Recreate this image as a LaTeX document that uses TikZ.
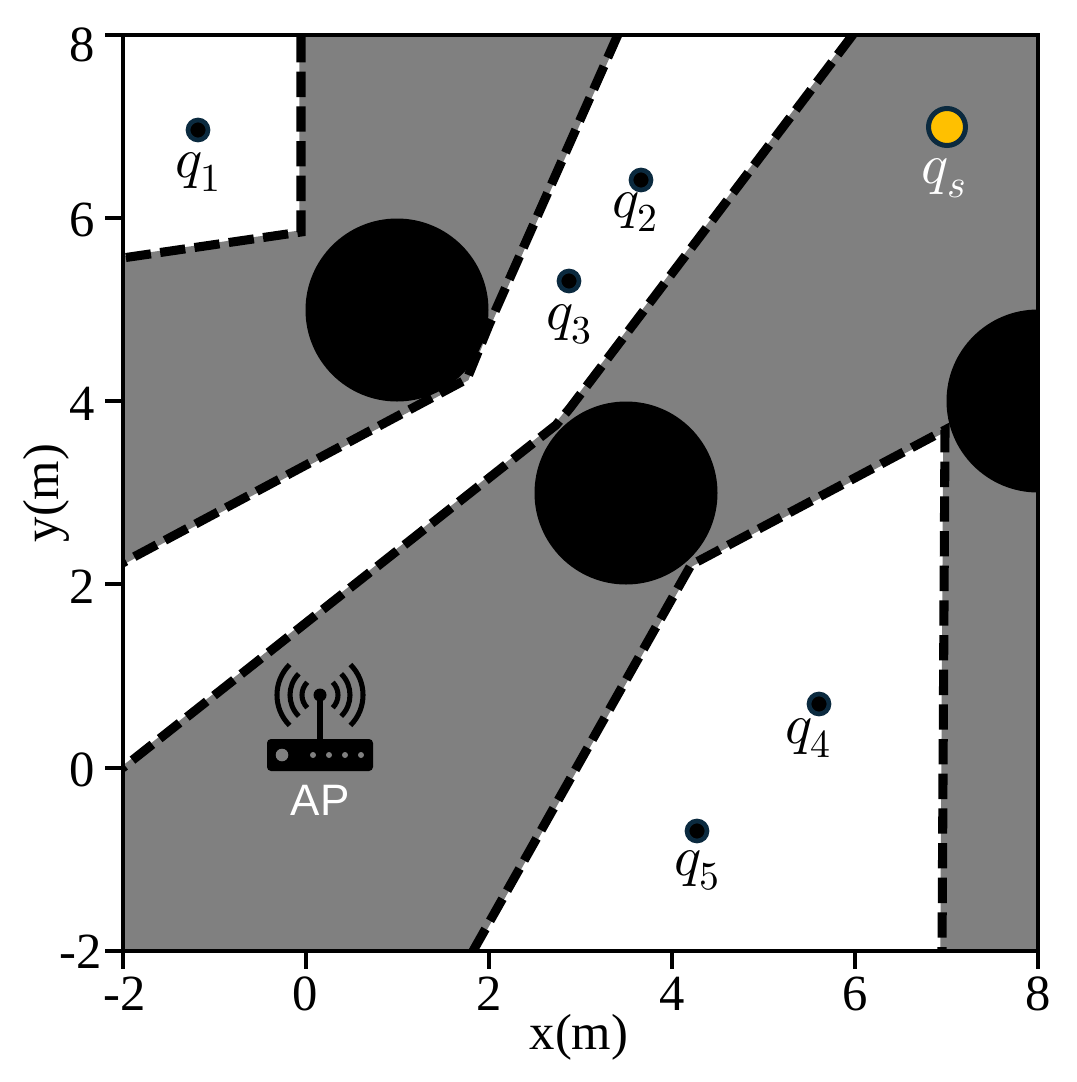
\documentclass[tikz,border=0pt]{standalone}
\usepackage{fontspec}
\setmainfont{Liberation Serif}
\newfontfamily\apfont{Liberation Sans}
\usepackage{unicode-math}
\setmathfont{Latin Modern Math}
\definecolor{regiongray}{HTML}{808080}
\definecolor{ptedge}{HTML}{0B2A3F}
\definecolor{goal}{HTML}{FFC000}
\tikzset{
  px/.style={x=0.75pt,y=-0.75pt},
  region/.style={fill=white},
  boundbase/.style={draw=regiongray,line width=2.6pt,line join=miter},
  bound/.style={draw=black,line width=6.8pt,dash pattern=on 19pt off 7pt,line cap=butt,line join=miter},
  spine/.style={draw=black,line width=3pt},
  tick/.style={draw=black,line width=3pt},
  ticklab/.style={font=\fontsize{38}{38}\selectfont,inner sep=0pt},
  axlab/.style={font=\fontsize{38}{38}\selectfont,inner sep=0pt},
  qlab/.style={font=\fontsize{42.5}{42.5}\selectfont,inner sep=0pt},
  ptsmall/.style={draw=ptedge,fill=black,line width=3.5pt},
  ptgoal/.style={draw=ptedge,fill=goal,line width=3.75pt},
  wave/.style={draw=black,line width=3.8pt,line cap=butt},
}
\begin{document}
\begin{tikzpicture}[px]
\useasboundingbox (0,0) rectangle (1076,1082);
\fill[white] (0,0) rectangle (1076,1082);
\fill[regiongray] (122.5,34.5) rectangle (1038,951);
\fill[region] (122.5,34.5) -- (301,34.5) -- (301,232) -- (122.5,258) -- cycle;
\fill[region] (122.5,563) -- (467,379) -- (489,325) -- (618,34.5) -- (853,34.5) -- (570,408) -- (556,425) -- (122.5,768) -- cycle;
\fill[region] (473,951) -- (691,565) -- (945,430) -- (942,951) -- cycle;
\begin{scope}
\clip (122.5,34.5) rectangle (1038,951);
\draw[boundbase] (301,34.5) -- (301,232) -- (122.5,258);
\draw[boundbase] (618,34.5) -- (489,325) -- (467,379) -- (122.5,563);
\draw[boundbase] (853,34.5) -- (570,408) -- (556,425) -- (122.5,768);
\draw[boundbase] (473,951) -- (691,565) -- (945,430) -- (942,951);
\fill[black] (397,310) circle (91.5);
\fill[black] (626,493) circle (91.5);
\fill[black] (1038,401) circle (91.5);
\draw[bound] (301,37) -- (301,232) -- (122.5,258);
\draw[bound] (618,34.5) -- (489,325) -- (467,379) -- (122.5,563);
\draw[bound] (853,34.5) -- (570,408) -- (556,425) -- (122.5,768);
\draw[bound] (473,951) -- (691,565) -- (945,430) -- (942,951);
\end{scope}
% AP icon
\fill[black,rounded corners=3pt] (267,739) rectangle (373,771);
\fill[regiongray] (282,755) circle (6.3);
\foreach \dx in {313,329,345,361} \fill[regiongray] (\dx,755) circle (3);
\draw[black,line width=4pt] (320,697) -- (320,739);
\fill[black] (320,695) circle (6.5);
\foreach \r in {18,30,43} {
  \draw[wave] ({320+\r*cos(135)},{695+\r*sin(135)}) arc[start angle=135,end angle=225,radius=\r];
  \draw[wave] ({320+\r*cos(-45)},{695+\r*sin(-45)}) arc[start angle=-45,end angle=45,radius=\r];
}
\node[font=\apfont\fontsize{33}{33}\selectfont,text=white,inner sep=0pt] (ap) at (320,800) {AP};
% points
\draw[ptsmall] (198,130) circle (10);
\draw[ptsmall] (641,180) circle (10);
\draw[ptsmall] (569,281) circle (10);
\draw[ptsmall] (819,704) circle (10);
\draw[ptsmall] (697,831) circle (10);
\draw[ptgoal] (947,127) circle (18.5);
\node[qlab] (q1) at (198.5,172) {$q_1$};
\node[qlab] (q2) at (635,212) {$q_2$};
\node[qlab] (q3) at (569,324) {$q_3$};
\node[qlab] (q4) at (808,738) {$q_4$};
\node[qlab] (q5) at (697,870) {$q_5$};
\node[qlab,text=white] (qs) at (944,178) {$q_s$};
% spines
\draw[spine,line cap=rect] (122.5,34.5) rectangle (1038,951);
% ticks
\foreach \x in {122.5,305.6,488.7,671.8,854.9,1038} \draw[tick] (\x,951) -- (\x,968.5);
\foreach \y in {951,767.7,584.4,401.1,217.8,34.5} \draw[tick] (122.5,\y) -- (105,\y);
\foreach \x/\l in {125/-2,305.6/0,488.7/2,671.8/4,854.9/6,1038/8}
  \node[ticklab,anchor=base] at (\x,1010) {\l};
\foreach \y/\l/\r in {968/-2/102,786.7/0/95,603.4/2/95,420.1/4/95,236.8/6/95,61/8/95}
  \node[ticklab,anchor=base east] at (\r,\y) {\l};
\node[axlab,anchor=base] (xl) at (579,1049) {x(m)};
\node[axlab,anchor=base,rotate=90] (yl) at (58,493) {y(m)};
\end{tikzpicture}
\end{document}
